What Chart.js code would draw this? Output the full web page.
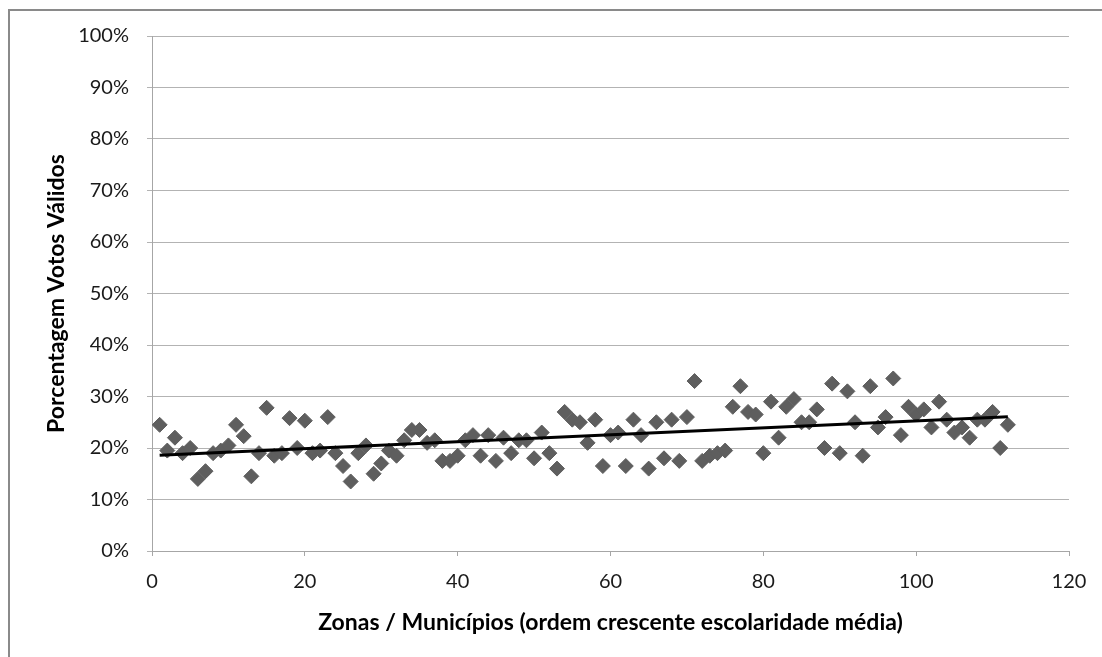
<!DOCTYPE html>
<html lang="pt">
<head>
  <meta charset="UTF-8" />
  <title>Porcentagem Votos Válidos</title>
  <script src="https://cdn.jsdelivr.net/npm/chart.js"></script>
  <style>
    body {
      margin: 0;
      background: #ffffff;
      overflow: hidden;
    }
    .frame {
      position: absolute;
      left: 8px;
      top: 9px;
      width: 1200px;
      height: 800px;
      border: 2px solid #8a8a8a;
    }
    #chart {
      position: absolute;
      left: 0;
      top: 0;
    }
  </style>
</head>
<body>
  <div class="frame"></div>
  <canvas id="chart" width="1102" height="657"></canvas>

  <script>
    // zona / municipio index (ordem crescente escolaridade media)
    const zonas = [
      1, 2, 3, 4, 5, 6, 7, 8, 9, 10, 11, 12, 13, 14, 15, 16, 17, 18, 19, 20,
      21, 22, 23, 24, 25, 26, 27, 28, 29, 30, 31, 32, 33, 34, 35, 36, 37, 38, 39, 40,
      41, 42, 43, 44, 45, 46, 47, 48, 49, 50, 51, 52, 53, 54, 55, 56, 57, 58, 59, 60,
      61, 62, 63, 64, 65, 66, 67, 68, 69, 70, 71, 72, 73, 74, 75, 76, 77, 78, 79, 80,
      81, 82, 83, 84, 85, 86, 87, 88, 89, 90, 91, 92, 93, 94, 95, 96, 97, 98, 99, 100,
      101, 102, 103, 104, 105, 106, 107, 108, 109, 110, 111, 112
    ];

    // porcentagem de votos validos (fracao)
    const votos = [
      0.245, 0.195, 0.22, 0.19, 0.20, 0.14, 0.155, 0.19, 0.195, 0.205,
      0.245, 0.223, 0.145, 0.19, 0.278, 0.185, 0.19, 0.258, 0.20, 0.253,
      0.19, 0.195, 0.26, 0.19, 0.165, 0.135, 0.19, 0.205, 0.15, 0.17,
      0.195, 0.185, 0.215, 0.235, 0.235, 0.21, 0.215, 0.175, 0.175, 0.185,
      0.215, 0.225, 0.185, 0.225, 0.175, 0.22, 0.19, 0.215, 0.215, 0.18,
      0.23, 0.19, 0.16, 0.27, 0.255, 0.25, 0.21, 0.255, 0.165, 0.225,
      0.23, 0.165, 0.255, 0.225, 0.16, 0.25, 0.18, 0.255, 0.175, 0.26,
      0.33, 0.175, 0.185, 0.19, 0.195, 0.28, 0.32, 0.27, 0.265, 0.19,
      0.29, 0.22, 0.28, 0.295, 0.25, 0.25, 0.275, 0.20, 0.325, 0.19,
      0.31, 0.25, 0.185, 0.32, 0.24, 0.26, 0.335, 0.225, 0.28, 0.265,
      0.275, 0.24, 0.29, 0.255, 0.23, 0.24, 0.22, 0.255, 0.255, 0.27,
      0.20, 0.245
    ];

    const xTicks = [0, 20, 40, 60, 80, 100, 120];
    const yTicks = [0, 0.1, 0.2, 0.3, 0.4, 0.5, 0.6, 0.7, 0.8, 0.9, 1.0];

    // linear trend (least squares) from the points above
    const n = zonas.length;
    let sx = 0, sy = 0, sxy = 0, sxx = 0;
    for (let i = 0; i < n; i++) {
      sx += zonas[i]; sy += votos[i];
      sxy += zonas[i] * votos[i]; sxx += zonas[i] * zonas[i];
    }
    const slope = (n * sxy - sx * sy) / (n * sxx - sx * sx);
    const intercept = (sy - slope * sx) / n;
    const xFirst = zonas[0], xLast = zonas[n - 1];

    const pontos = zonas.map((z, i) => ({ x: z, y: votos[i] }));
    const tendencia = [
      { x: xFirst, y: intercept + slope * xFirst },
      { x: xLast, y: intercept + slope * xLast }
    ];

    const fontFamily = "Lato, 'Open Sans', sans-serif";

    const ctx = document.getElementById('chart').getContext('2d');
    new Chart(ctx, {
      type: 'scatter',
      data: {
        datasets: [
          {
            label: 'Tendência',
            type: 'line',
            data: tendencia,
            borderColor: '#000000',
            borderWidth: 3,
            pointRadius: 0,
            fill: false,
            order: 0
          },
          {
            label: 'Votos',
            data: pontos,
            pointStyle: 'rectRot',
            pointRadius: 7.5,
            pointBackgroundColor: '#5e5e5e',
            pointBorderColor: '#5e5e5e',
            pointBorderWidth: 1,
            order: 1
          }
        ]
      },
      options: {
        responsive: false,
        animation: false,
        layout: { padding: { left: 0, top: 36, right: 33, bottom: 0 } },
        plugins: {
          legend: { display: false },
          tooltip: { enabled: false }
        },
        scales: {
          x: {
            type: 'linear',
            min: 0,
            max: 120,
            afterBuildTicks: (scale) => { scale.ticks = xTicks.map(v => ({ value: v })); },
            afterFit: (scale) => { scale.height = 106; },
            border: { color: '#a6a6a6', width: 1 },
            grid: { drawOnChartArea: false, drawTicks: true, tickLength: 5, color: '#a6a6a6' },
            ticks: {
              color: '#1a1a1a',
              padding: 14,
              font: { family: fontFamily, size: 20 }
            },
            title: {
              display: true,
              text: 'Zonas / Municípios (ordem crescente escolaridade média)',
              color: '#000000',
              font: { family: fontFamily, size: 23, weight: 'bold' },
              padding: { top: 0, bottom: 21 }
            }
          },
          y: {
            min: 0,
            max: 1,
            afterBuildTicks: (scale) => { scale.ticks = yTicks.map(v => ({ value: v })); },
            afterFit: (scale) => { scale.width = 152; },
            border: { color: '#a6a6a6', width: 1 },
            grid: { color: '#b3b3b3', lineWidth: 1, tickLength: 5 },
            ticks: {
              color: '#1a1a1a',
              padding: 18,
              font: { family: fontFamily, size: 20 },
              callback: (v) => Math.round(v * 100) + '%'
            },
            title: {
              display: true,
              text: 'Porcentagem Votos Válidos',
              color: '#000000',
              font: { family: fontFamily, size: 23, weight: 'bold' },
              padding: { top: 43, bottom: 0 }
            }
          }
        }
      }
    });
  </script>
</body>
</html>
